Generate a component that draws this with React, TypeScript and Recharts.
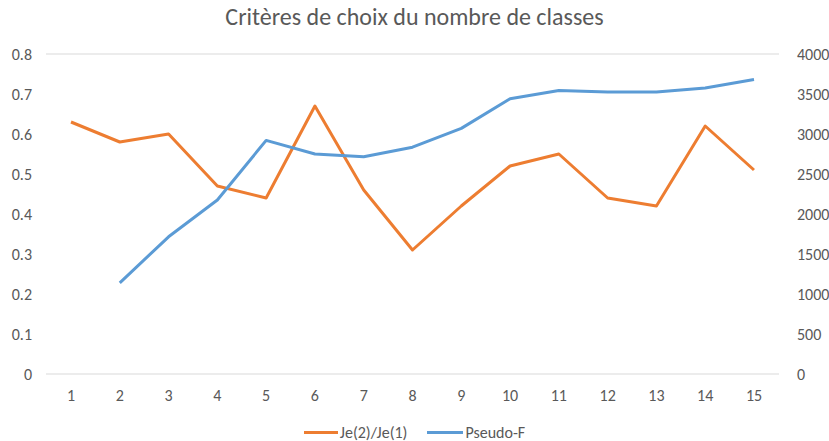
import React from 'react';
import { LineChart, Line, XAxis, YAxis, CartesianGrid, Legend } from 'recharts';

const categories = ['1', '2', '3', '4', '5', '6', '7', '8', '9', '10', '11', '12', '13', '14', '15'];
const jeRatio = [0.63, 0.58, 0.6, 0.47, 0.44, 0.67, 0.46, 0.31, 0.42, 0.52, 0.55, 0.44, 0.42, 0.62, 0.51];
const pseudoF: (number | null)[] = [null, 1140, 1715, 2175, 2920, 2750, 2715, 2835, 3070, 3440, 3545, 3525, 3525, 3575, 3680];
const leftTicks = [0, 0.1, 0.2, 0.3, 0.4, 0.5, 0.6, 0.7, 0.8];
const rightTicks = [0, 500, 1000, 1500, 2000, 2500, 3000, 3500, 4000];

const seriesNames = { je: 'Je(2)/Je(1)', pf: 'Pseudo-F' };
const title = 'Critères de choix du nombre de classes';

const data = categories.map((c, i) => ({ cat: c, je: jeRatio[i], pf: pseudoF[i] }));

const FONT = 'Carlito, Calibri, "Open Sans", "Noto Sans", sans-serif';
const TEXT = '#595959';

const LegendContent = () => (
  <div style={{ display: 'flex', justifyContent: 'center', alignItems: 'center', fontFamily: FONT, fontSize: 16, color: TEXT, paddingTop: 14 }}>
    <span style={{ display: 'inline-block', width: 34, height: 3, background: '#ED7D31', marginRight: 2 }} />
    <span style={{ marginRight: 20 }}>{seriesNames.je}</span>
    <span style={{ display: 'inline-block', width: 36, height: 3, background: '#5B9BD5', marginRight: 2 }} />
    <span>{seriesNames.pf}</span>
  </div>
);

export default function App() {
  return (
    <div style={{ position: 'absolute', left: 0, top: 0, width: 829, height: 441, background: '#fff' }}>
      <div style={{ position: 'absolute', left: 0, top: 2, width: 829, textAlign: 'center', fontFamily: FONT, fontSize: 24, color: TEXT }}>
        {title}
      </div>
      <LineChart width={829} height={441} data={data} margin={{ top: 54, right: 0, left: 0, bottom: 0 }}>
        <CartesianGrid vertical={false} stroke="#d9d9d9" strokeWidth={1} />
        <XAxis dataKey="cat" axisLine={false} tickLine={false} height={35} padding={{ left: 25, right: 25 }}
          tick={{ fill: TEXT, fontSize: 16, fontFamily: FONT }} tickMargin={10} interval={0} />
        <YAxis yAxisId="left" orientation="left" width={46} domain={[0, 0.8]} ticks={leftTicks} axisLine={false} tickLine={false}
          tickFormatter={(v: number) => String(v)} tick={{ fill: TEXT, fontSize: 16, fontFamily: FONT }} tickMargin={8} interval={0} />
        <YAxis yAxisId="right" orientation="right" width={50} domain={[0, 4000]} ticks={rightTicks} axisLine={false} tickLine={false}
          tick={{ fill: TEXT, fontSize: 16, fontFamily: FONT }} tickMargin={12} interval={0} />
        <Legend verticalAlign="bottom" height={32} content={<LegendContent />} />
        <Line yAxisId="left" dataKey="je" name={seriesNames.je} stroke="#ED7D31" strokeWidth={3} dot={false} isAnimationActive={false} strokeLinejoin="round" />
        <Line yAxisId="right" dataKey="pf" name={seriesNames.pf} stroke="#5B9BD5" strokeWidth={3} dot={false} isAnimationActive={false} strokeLinejoin="round" connectNulls={false} />
      </LineChart>
    </div>
  );
}
